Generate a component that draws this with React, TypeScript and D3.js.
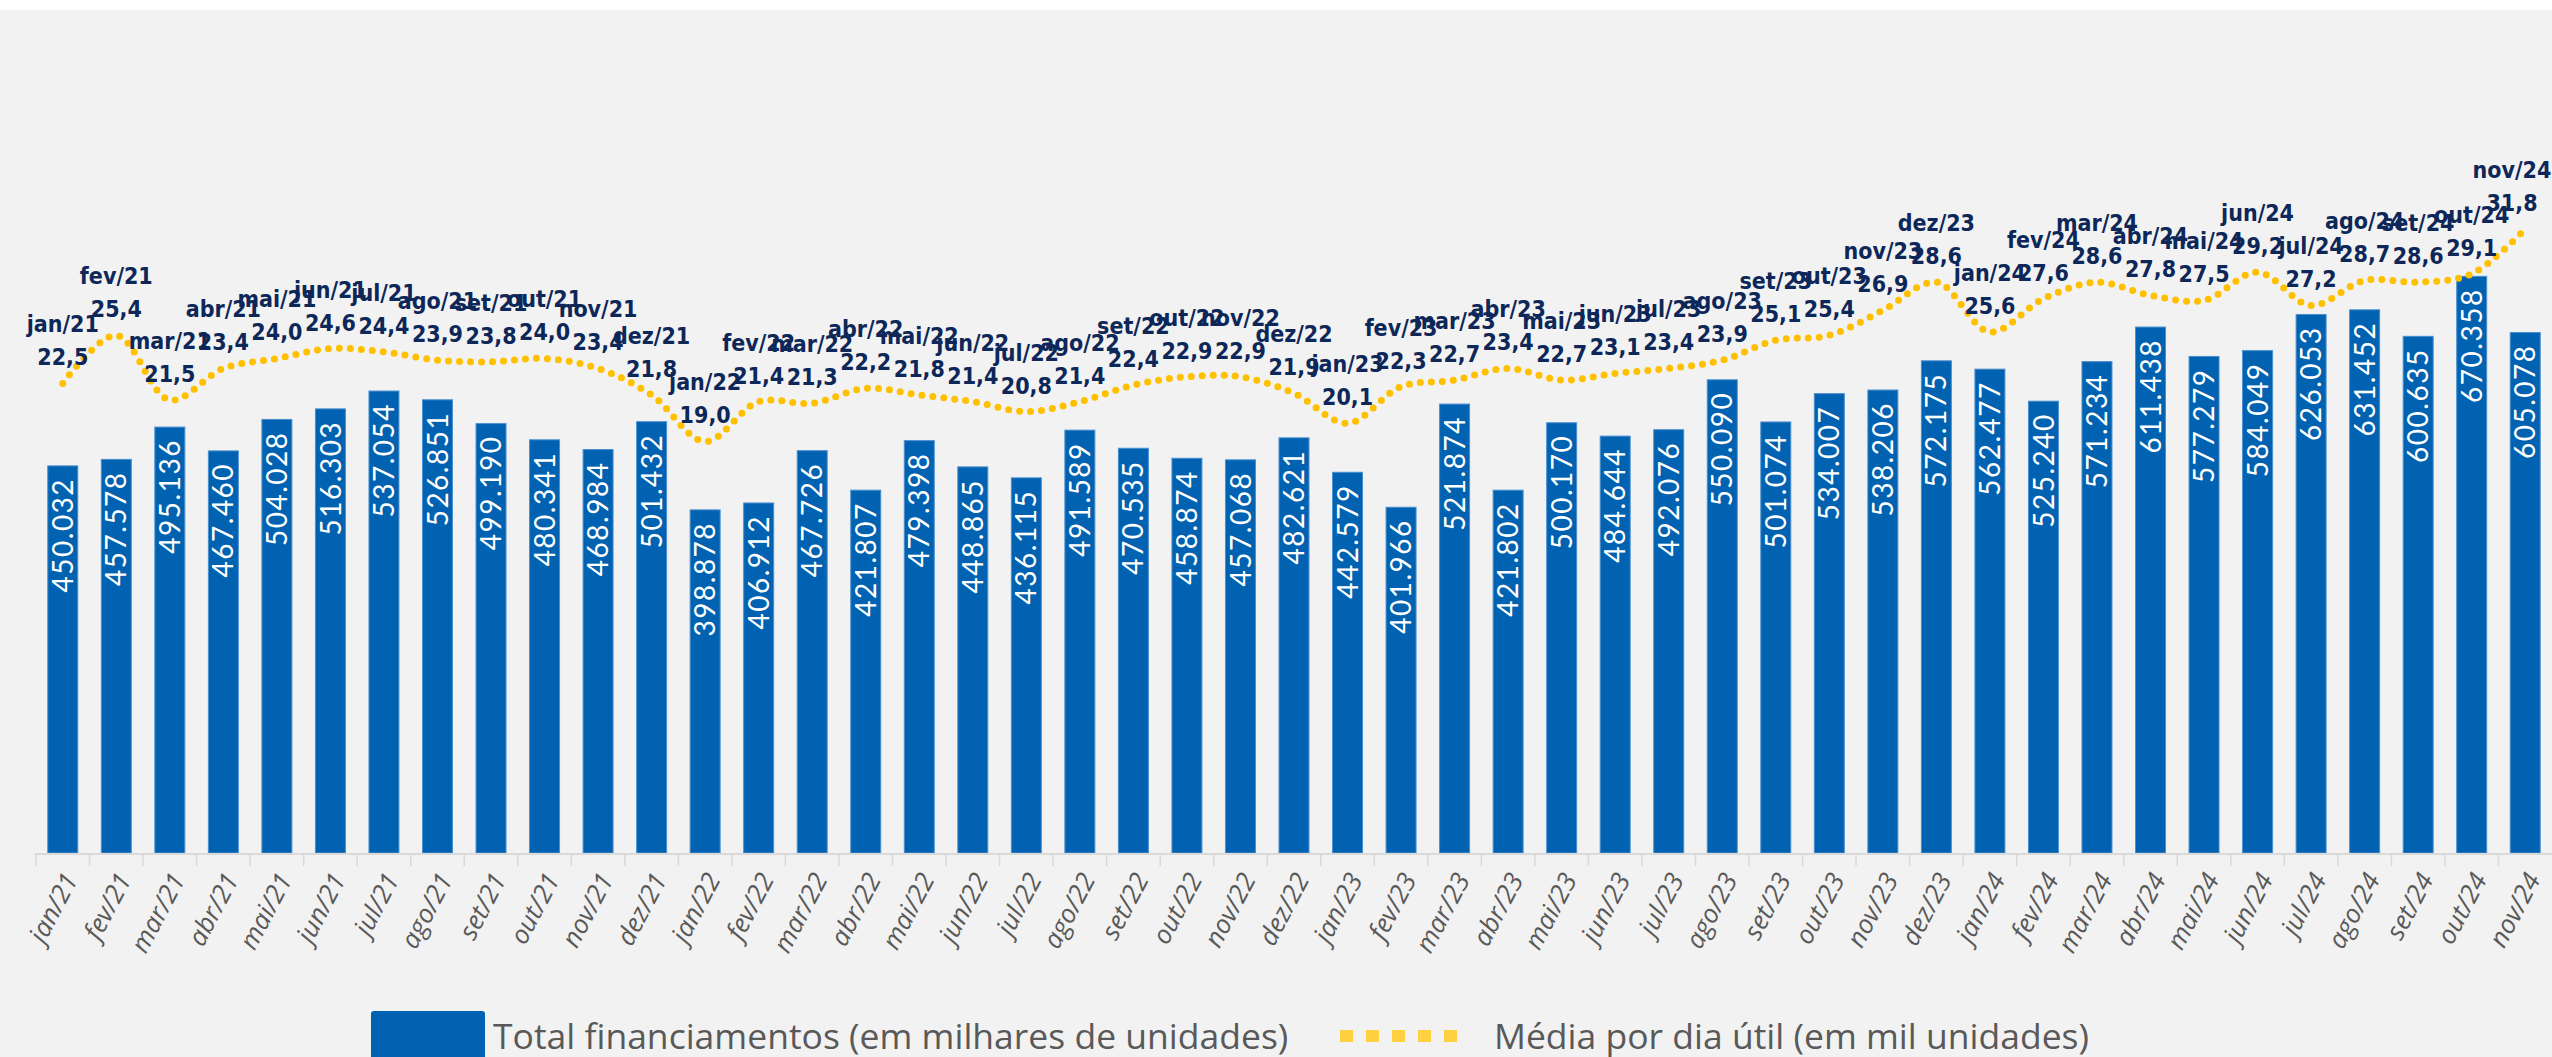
import React, { useEffect, useRef } from 'react';
import * as d3 from 'd3';

// months shown on the x axis
const months = [
  'jan/21', 'fev/21', 'mar/21', 'abr/21', 'mai/21', 'jun/21', 'jul/21', 'ago/21', 'set/21', 'out/21', 'nov/21', 'dez/21',
  'jan/22', 'fev/22', 'mar/22', 'abr/22', 'mai/22', 'jun/22', 'jul/22', 'ago/22', 'set/22', 'out/22', 'nov/22', 'dez/22',
  'jan/23', 'fev/23', 'mar/23', 'abr/23', 'mai/23', 'jun/23', 'jul/23', 'ago/23', 'set/23', 'out/23', 'nov/23', 'dez/23',
  'jan/24', 'fev/24', 'mar/24', 'abr/24', 'mai/24', 'jun/24', 'jul/24', 'ago/24', 'set/24', 'out/24', 'nov/24',
];

// Total financiamentos (em unidades)
const totalFinanciamentos = [
  450032, 457578, 495136, 467460, 504028, 516303, 537054, 526851, 499190, 480341, 468984, 501432,
  398878, 406912, 467726, 421807, 479398, 448865, 436115, 491589, 470535, 458874, 457068, 482621,
  442579, 401966, 521874, 421802, 500170, 484644, 492076, 550090, 501074, 534007, 538206, 572175,
  562477, 525240, 571234, 611438, 577279, 584049, 626053, 631452, 600635, 670358, 605078,
];

// Média por dia útil (em mil unidades)
const mediaDiaUtil = [
  22.5, 25.4, 21.5, 23.4, 24.0, 24.6, 24.4, 23.9, 23.8, 24.0, 23.4, 21.8,
  19.0, 21.4, 21.3, 22.2, 21.8, 21.4, 20.8, 21.4, 22.4, 22.9, 22.9, 21.9,
  20.1, 22.3, 22.7, 23.4, 22.7, 23.1, 23.4, 23.9, 25.1, 25.4, 26.9, 28.6,
  25.6, 27.6, 28.6, 27.8, 27.5, 29.2, 27.2, 28.7, 28.6, 29.1, 31.8,
];

const legendLabels = ['Total financiamentos (em milhares de unidades)', 'Média por dia útil (em mil unidades)'];

const WIDTH = 2552;
const HEIGHT = 1057;
const margin = { top: 10, right: 0, bottom: 204, left: 36 };

const BAR_COLOR = '#0062b1';
const LINE_COLOR = '#ffc000';
const LABEL_COLOR = '#0d2758';

const fmtThousands = (v: number) => d3.format(',')(v).replace(/,/g, '.');
const fmtDecimal = (v: number) => v.toFixed(1).replace('.', ',');

const App: React.FC = () => {
  const svgRef = useRef<SVGSVGElement>(null);

  useEffect(() => {
    if (!svgRef.current) return;
    const svg = d3.select(svgRef.current);
    svg.selectAll('*').remove();

    const baseline = HEIGHT - margin.bottom;

    const x = d3
      .scaleBand<string>()
      .domain(months)
      .range([margin.left, WIDTH - margin.right])
      .paddingInner(0.44)
      .paddingOuter(0.22);

    const yBar = d3.scaleLinear().domain([0, 980000]).range([baseline, margin.top]);
    const yLine = d3.scaleLinear().domain([-5.8, 45]).range([baseline, margin.top]);

    const cx = (m: string) => (x(m) as number) + x.bandwidth() / 2;

    // background
    svg.append('rect').attr('width', WIDTH).attr('height', HEIGHT).attr('fill', '#f2f2f2');
    svg.append('rect').attr('width', WIDTH).attr('height', margin.top).attr('fill', '#ffffff');

    // bars
    svg
      .append('g')
      .selectAll('rect')
      .data(months)
      .enter()
      .append('rect')
      .attr('x', (d) => x(d) as number)
      .attr('y', (d, i) => yBar(totalFinanciamentos[i]))
      .attr('width', x.bandwidth())
      .attr('height', (d, i) => baseline - yBar(totalFinanciamentos[i]))
      .attr('fill', BAR_COLOR)
      .attr('stroke', '#4a8fcf')
      .attr('stroke-width', 1);

    // bar value labels (rotated, inside end)
    svg
      .append('g')
      .selectAll('text')
      .data(months)
      .enter()
      .append('text')
      .attr('transform', (d, i) => `translate(${cx(d)},${yBar(totalFinanciamentos[i]) + 12}) rotate(-90)`)
      .attr('text-anchor', 'end')
      .attr('dy', '0.36em')
      .attr('fill', '#ffffff')
      .style('font-family', 'Lato, "DejaVu Sans", sans-serif')
      .style('font-size', '28px')
      .style('letter-spacing', '1.5px')
      .text((d, i) => fmtThousands(totalFinanciamentos[i]));

    // x axis line and ticks
    const axis = svg.append('g');
    axis
      .append('line')
      .attr('x1', margin.left)
      .attr('x2', WIDTH)
      .attr('y1', baseline + 1)
      .attr('y2', baseline + 1)
      .attr('stroke', '#d9d9d9')
      .attr('stroke-width', 2);
    axis
      .selectAll('.tick')
      .data(months)
      .enter()
      .append('line')
      .attr('class', 'tick')
      .attr('x1', (d) => (x(d) as number) - (x.step() - x.bandwidth()) / 2)
      .attr('x2', (d) => (x(d) as number) - (x.step() - x.bandwidth()) / 2)
      .attr('y1', baseline)
      .attr('y2', baseline + 13)
      .attr('stroke', '#d9d9d9')
      .attr('stroke-width', 1.5);
    axis
      .selectAll('.tick-label')
      .data(months)
      .enter()
      .append('text')
      .attr('class', 'tick-label')
      .attr('transform', (d) => `translate(${cx(d) + 8},${baseline + 22}) rotate(-62)`)
      .attr('text-anchor', 'end')
      .attr('dy', '0.35em')
      .attr('fill', '#595959')
      .style('font-family', '"Open Sans", Lato, sans-serif')
      .style('font-style', 'italic')
      .style('font-size', '26px')
      .text((d) => d);

    // dotted smooth line
    const line = d3
      .line<number>()
      .x((d, i) => cx(months[i]))
      .y((d) => yLine(d))
      .curve(d3.curveCatmullRom);

    svg
      .append('path')
      .datum(mediaDiaUtil)
      .attr('fill', 'none')
      .attr('stroke', LINE_COLOR)
      .attr('stroke-width', 7)
      .attr('stroke-linecap', 'round')
      .attr('stroke-dasharray', '0 11')
      .attr('d', line);

    // line labels: month + value (kept inside the right edge)
    const labelX = (i: number) => Math.min(cx(months[i]), WIDTH - 40);
    const lbl = svg
      .append('g')
      .style('font-family', '"Liberation Sans Narrow", "DejaVu Sans Condensed", Roboto, sans-serif')
      .style('font-weight', 'bold')
      .style('font-size', '23px')
      .attr('fill', LABEL_COLOR)
      .attr('text-anchor', 'middle');
    lbl
      .selectAll('.val')
      .data(mediaDiaUtil)
      .enter()
      .append('text')
      .attr('class', 'val')
      .attr('x', (d, i) => labelX(i))
      .attr('y', (d) => yLine(d) - 18)
      .text((d) => fmtDecimal(d));
    lbl
      .selectAll('.cat')
      .data(mediaDiaUtil)
      .enter()
      .append('text')
      .attr('class', 'cat')
      .attr('x', (d, i) => labelX(i))
      .attr('y', (d) => yLine(d) - 51)
      .text((d, i) => months[i]);

    // legend
    const legend = svg.append('g');
    legend.append('rect').attr('x', 371).attr('y', 1011).attr('width', 114).attr('height', 60).attr('rx', 3).attr('fill', BAR_COLOR);
    legend
      .append('text')
      .attr('x', 493)
      .attr('y', 1049)
      .attr('fill', '#595959')
      .style('font-family', '"Open Sans", Lato, sans-serif')
      .style('font-size', '35.5px')
      .text(legendLabels[0]);
    legend
      .append('line')
      .attr('x1', 1340)
      .attr('x2', 1468)
      .attr('y1', 1036)
      .attr('y2', 1036)
      .attr('stroke', '#ffd040')
      .attr('stroke-width', 12)
      .attr('stroke-dasharray', '13 13');
    legend
      .append('text')
      .attr('x', 1494)
      .attr('y', 1049)
      .attr('fill', '#595959')
      .style('font-family', '"Open Sans", Lato, sans-serif')
      .style('font-size', '35.5px')
      .text(legendLabels[1]);
  }, []);

  return (
    <svg
      ref={svgRef}
      width={WIDTH}
      height={HEIGHT}
      style={{ position: 'absolute', left: 0, top: 0, display: 'block' }}
    />
  );
};

export default App;
